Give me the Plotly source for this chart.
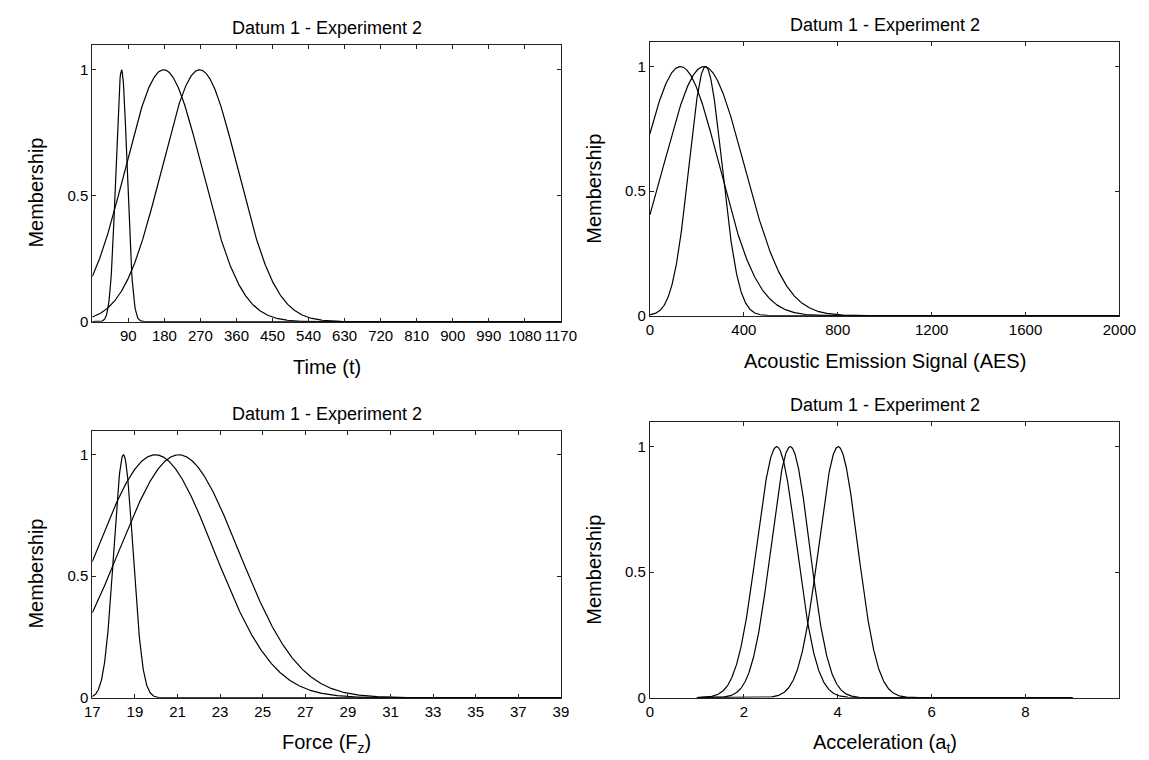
import numpy as np
import plotly.graph_objects as go

# ---- data: Gaussian membership functions (centre, spread) ----
time_centers = [73, 178, 268]
time_sigmas = [14, 96, 95]
time_range = [0, 1170]
time_ticks = [90, 180, 270, 360, 450, 540, 630, 720, 810, 900, 990, 1080, 1170]

aes_centers = [130, 230, 237]
aes_sigmas = [164, 171, 70]
aes_range = [0, 2000]
aes_ticks = [0, 400, 800, 1200, 1600, 2000]

force_centers = [18.46, 19.96, 21.06]
force_sigmas = [0.45, 2.75, 2.8]
force_range = [17, 39]
force_ticks = [17, 19, 21, 23, 25, 27, 29, 31, 33, 35, 37, 39]

acc_centers = [2.70, 2.99, 4.01]
acc_sigmas = [0.425, 0.41, 0.415]
acc_range = [0, 10]
acc_span = [1, 9]
acc_ticks = [0, 2, 4, 6, 8]

y_ticks = [0, 0.5, 1]
y_ticktext = ["0", "0.5", "1"]

title_text = "Datum 1 - Experiment 2"
x_titles = ["Time (t)", "Acoustic Emission Signal (AES)", "Force (F<sub>z</sub>)",
            "Acceleration (a<sub>t</sub>)"]
y_title = "Membership"

W, H = 1149, 760
FONT = "Liberation Sans, Arial, Helvetica, sans-serif"


def gauss(x, c, s):
    return np.exp(-((x - c) ** 2) / (2.0 * s * s))


# pixel boxes of the four axes: left, right, top, bottom
boxes = [
    (78, 557, 37, 317),
    (648, 1128, 34, 311),
    (78, 557, 427, 697),
    (648, 1128, 418, 697),
]

panels = [
    (time_centers, time_sigmas, time_range, time_range, time_ticks),
    (aes_centers, aes_sigmas, aes_range, aes_range, aes_ticks),
    (force_centers, force_sigmas, force_range, force_range, force_ticks),
    (acc_centers, acc_sigmas, acc_range, acc_span, acc_ticks),
]

fig = go.Figure()
annotations = []

for i, ((cs, ss, rng, span, ticks), (l, r, t, b)) in enumerate(zip(panels, boxes)):
    n = "" if i == 0 else str(i + 1)
    xa, ya = "x" + n, "y" + n
    xs = np.linspace(span[0], span[1], 1200)
    for c, s in zip(cs, ss):
        fig.add_trace(go.Scatter(x=xs, y=gauss(xs, c, s), mode="lines",
                                 line=dict(color="black", width=1.2),
                                 xaxis=xa, yaxis=ya, showlegend=False,
                                 hoverinfo="skip"))
    axis_common = dict(showline=True, linecolor="#222", linewidth=1, mirror="ticks",
                       ticks="inside", ticklen=4, tickcolor="#222", showgrid=False,
                       zeroline=False, tickfont=dict(family=FONT, size=15, color="black"))
    fig.layout["xaxis" + n] = dict(domain=[l / W, r / W], range=rng, tickvals=ticks,
                                   anchor=ya, **axis_common)
    fig.layout["yaxis" + n] = dict(domain=[1 - b / H, 1 - t / H], range=[0, 1.1],
                                   tickvals=y_ticks, ticktext=y_ticktext,
                                   anchor=xa, **axis_common)
    cx = (l + r) / 2
    # subplot title
    annotations.append(dict(text=title_text, x=cx / W, y=1 - (t - 17) / H,
                            xref="paper", yref="paper", showarrow=False,
                            xanchor="center", yanchor="middle",
                            font=dict(family=FONT, size=18, color="black")))
    # x axis title
    annotations.append(dict(text=x_titles[i], x=cx / W, y=1 - (b + 46) / H,
                            xref="paper", yref="paper", showarrow=False,
                            xanchor="center", yanchor="middle",
                            font=dict(family=FONT, size=20, color="black")))
    # y axis title
    annotations.append(dict(text=y_title, x=(l - 58) / W, y=1 - ((t + b) / 2 + 10) / H,
                            xref="paper", yref="paper", showarrow=False,
                            xanchor="center", yanchor="middle", textangle=-90,
                            font=dict(family=FONT, size=20, color="black")))

fig.update_layout(width=W, height=H, margin=dict(l=0, r=0, t=0, b=0),
                  paper_bgcolor="white", plot_bgcolor="white",
                  annotations=annotations, showlegend=False)

fig.write_html("out.html")
